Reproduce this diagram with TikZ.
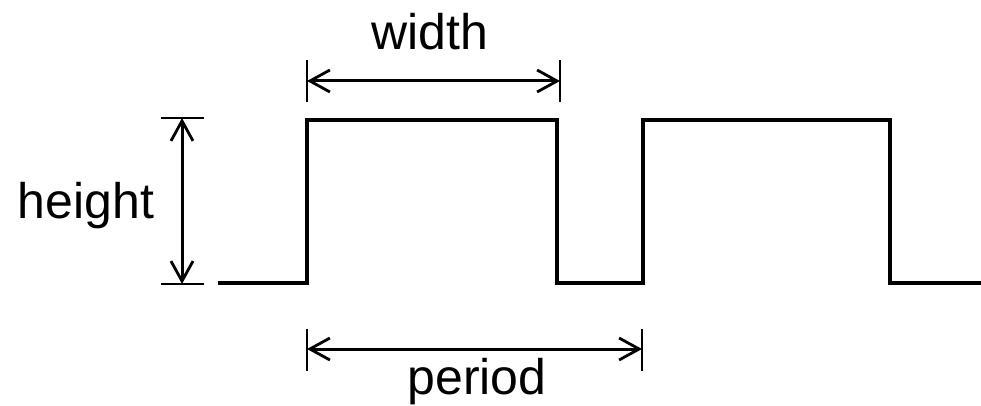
\documentclass[tikz,border=0pt]{standalone}
\usepackage{fontspec}
\setmainfont{Liberation Sans}
\usetikzlibrary{arrows.meta}
\tikzset{
  wave/.style={line width=4pt, line join=miter},
  dim/.style={line width=3pt, {Straight Barb[length=20pt,width=22pt,line width=2.8pt]}-{Straight Barb[length=20pt,width=22pt,line width=2.8pt]}},
  tick/.style={line width=2.2pt},
  lbl/.style={font=\fontsize{50}{60}\selectfont, inner sep=0pt, anchor=base}
}
\begin{document}
\begin{tikzpicture}[x=1pt,y=-1pt]
\useasboundingbox (0,0) rectangle (981,406);
% waveform
\coordinate (w0) at (218,283);
\coordinate (w1) at (307,283);
\coordinate (w2) at (307,120);
\coordinate (w3) at (557,120);
\coordinate (w4) at (557,283);
\coordinate (w5) at (643,283);
\coordinate (w6) at (643,120);
\coordinate (w7) at (890,120);
\coordinate (w8) at (890,283);
\coordinate (w9) at (981,283);
\draw[wave] (w0) -- (w1) -- (w2) -- (w3) -- (w4) -- (w5) -- (w6) -- (w7) -- (w8) -- (w9);
% height dimension
\coordinate (hT) at (182,118);
\coordinate (hB) at (182,284);
\draw[tick] (161,118) -- (204,118);
\draw[tick] (161,284) -- (204,284);
\draw[dim] (hT) -- (hB);
\node[lbl] (height) at (86,218) {height};
% width dimension
\coordinate (wL) at (307,81);
\coordinate (wR) at (560,81);
\draw[tick] (307,60) -- (307,102);
\draw[tick] (560,60) -- (560,102);
\draw[dim] (wL) -- (wR);
\node[lbl] (width) at (430,50) {width};
% period dimension
\coordinate (pL) at (307,349);
\coordinate (pR) at (642,349);
\draw[tick] (307,329) -- (307,371);
\draw[tick] (642,329) -- (642,371);
\draw[dim] (pL) -- (pR);
\node[lbl] (period) at (477,394) {period};
\end{tikzpicture}
\end{document}
